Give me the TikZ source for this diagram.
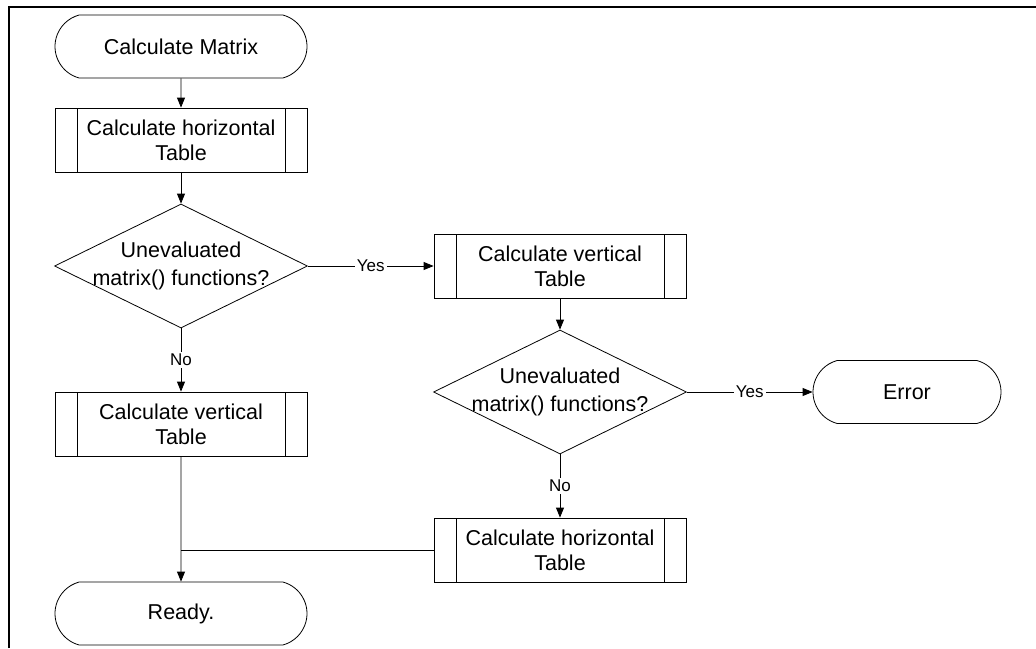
\documentclass[tikz,border=0pt]{standalone}
\usepackage{fontspec}
\setmainfont{Liberation Sans}
\usetikzlibrary{shapes.geometric,shapes.misc,arrows.meta}
\begin{document}
\begin{tikzpicture}[x=1pt,y=-1pt,
  line width=0.8pt,
  base/.style={draw, align=center, font=\fontsize{21.5}{25}\selectfont, inner sep=0pt},
  term/.style={base, rounded rectangle, rounded rectangle arc length=150,
    minimum width=#1, minimum height=63pt},
  term/.default=252pt,
  proc/.style={base, rectangle, minimum width=252pt, minimum height=64pt,
    path picture={\draw
      ([xshift=22pt]path picture bounding box.north west) -- ([xshift=22pt]path picture bounding box.south west)
      ([xshift=-22pt]path picture bounding box.north east) -- ([xshift=-22pt]path picture bounding box.south east);}},
  decide/.style={base, diamond, aspect=2.04, inner sep=-12pt, minimum width=253pt, minimum height=124pt,
    font=\fontsize{21.5}{28}\selectfont},
  flow/.style={-{Triangle[length=10pt,width=8pt]}},
  tag/.style={fill=white, inner sep=2pt, font=\fontsize{17}{19}\selectfont},
]
\useasboundingbox (0,0) rectangle (1036,648);

% frame: top and left edges only
\draw[line width=2pt] (9,648) -- (9,7) -- (1036,7);

% nodes
\node[term] (start) at (181,46.5) {Calculate Matrix};
\node[proc] (h1) at (181,140) {Calculate horizontal\\Table};
\node[decide] (d1) at (181,266) {Unevaluated\\matrix() functions?};
\node[proc] (v2) at (560,266) {Calculate vertical\\Table};
\node[decide] (d2) at (560,392) {Unevaluated\\matrix() functions?};
\node[term=188pt] (err) at (907,392) {Error};
\node[proc] (v1) at (181,424) {Calculate vertical\\Table};
\node[proc] (h2) at (560,550) {Calculate horizontal\\Table};
\node[term] (ready) at (181,613.5) {Ready.};

% connectors
\draw[flow] (start) -- (h1);
\draw[flow] (h1) -- (d1);
\draw[flow] (d1) -- node[tag]{Yes} (v2);
\draw[flow] (v2) -- (d2);
\draw[flow] (d2) -- node[tag]{Yes} (err);
\draw[flow] (d1) -- node[tag]{No} (v1);
\draw[flow] (d2) -- node[tag]{No} (h2);
\draw[flow] (v1) -- (ready);
\coordinate (join) at (v1.south |- h2.west);
\draw (h2.west) -- (join);
\end{tikzpicture}
\end{document}
